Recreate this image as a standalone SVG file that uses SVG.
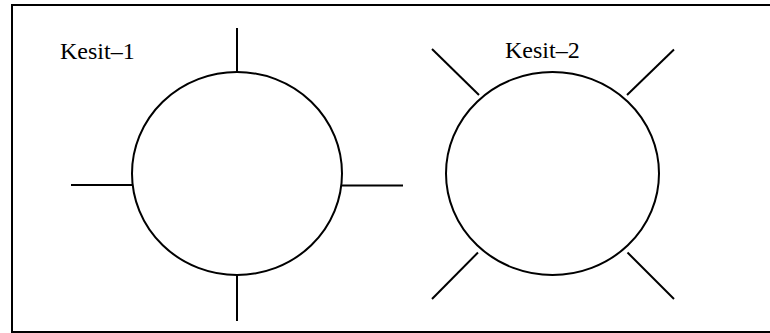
<svg xmlns="http://www.w3.org/2000/svg" width="770" height="333" viewBox="0 0 770 333">
<style>
.s{fill:none;stroke:#000;stroke-width:2}
.t{font-size:24px;fill:#000}
</style>
<rect x="12" y="5" width="770" height="327" fill="#fff" stroke="#000" stroke-width="2"/>
<g id="kesit1">
<ellipse class="s" cx="237" cy="173.5" rx="105" ry="101.5"/>
<text class="t" font-family="'Liberation Serif', 'DejaVu Serif', serif" x="60" y="59">Kesit–1</text>
</g>
<g id="kesit2">
<ellipse class="s" cx="552.5" cy="173.5" rx="106.5" ry="101.5"/>
<text class="t" font-family="'Liberation Serif', 'DejaVu Serif', serif" x="505" y="58">Kesit–2</text>
</g>
<g id="connectors" class="s">
<line x1="237" y1="28" x2="237" y2="72"/>
<line x1="237" y1="275" x2="237" y2="321"/>
<line x1="71" y1="185" x2="132" y2="185"/>
<line x1="342" y1="185.5" x2="403" y2="185.5"/>
<line x1="432" y1="49" x2="479" y2="95"/>
<line x1="627" y1="95" x2="674" y2="49.5"/>
<line x1="627.5" y1="252.5" x2="674" y2="299"/>
<line x1="478" y1="252.5" x2="432" y2="299"/>
</g>
</svg>
